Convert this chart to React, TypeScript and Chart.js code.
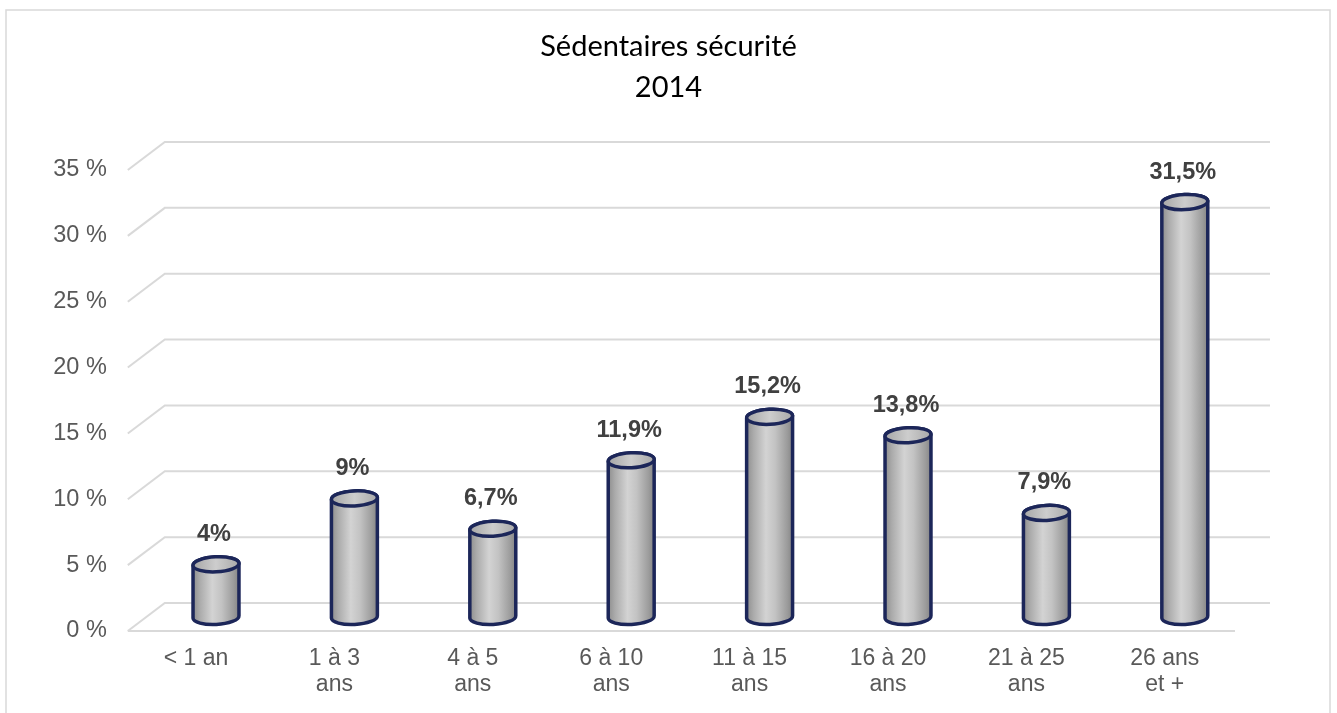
import React, { useEffect, useRef } from 'react';
import { Chart, registerables } from 'chart.js';

Chart.register(...registerables);

const TITLE_LINES = ['Sédentaires sécurité', '2014'];
const CATEGORIES = [
  ['< 1 an'],
  ['1 à 3', 'ans'],
  ['4 à 5', 'ans'],
  ['6 à 10', 'ans'],
  ['11 à 15', 'ans'],
  ['16 à 20', 'ans'],
  ['21 à 25', 'ans'],
  ['26 ans', 'et +'],
];
const VALUES = [4, 9, 6.7, 11.9, 15.2, 13.8, 7.9, 31.5];
const Y_MIN = 0;
const Y_MAX = 35;
const Y_STEP = 5;

const GRID_COLOR = '#d9d9d9';
const OUTLINE = '#1c2659';

const cylinderPlugin = {
  id: 'cylinder3d',
  beforeDraw(chart: any) {
    const ctx = chart.ctx;
    ctx.save();
    ctx.fillStyle = '#ffffff';
    ctx.fillRect(0, 0, chart.width, chart.height);
    ctx.strokeStyle = '#d9d9d9';
    ctx.lineWidth = 1.5;
    ctx.strokeRect(6, 10, 1324, 740);
    ctx.restore();
  },
  beforeDatasetsDraw(chart: any) {
    const ctx = chart.ctx;
    const area = chart.chartArea;
    const ys = chart.scales.y;
    const backL = area.left + 18;
    const backR = area.right + 16;
    const frontL = area.left - 19;
    const frontR = area.right - 19;
    ctx.save();
    ctx.strokeStyle = GRID_COLOR;
    ctx.lineWidth = 2;
    ys.ticks.forEach((t: any) => {
      const y = ys.getPixelForValue(t.value);
      ctx.beginPath();
      ctx.moveTo(frontL, y + 14);
      ctx.lineTo(backL, y - 14);
      ctx.lineTo(backR, y - 14);
      ctx.stroke();
    });
    const y0 = ys.getPixelForValue(0);
    ctx.beginPath();
    ctx.moveTo(frontL, y0 + 14);
    ctx.lineTo(frontR, y0 + 14);
    ctx.stroke();
    ctx.restore();
  },
  afterDatasetsDraw(chart: any) {
    const ctx = chart.ctx;
    const meta = chart.getDatasetMeta(0);
    const data = chart.data.datasets[0].data;
    const rot = -0.05;
    meta.data.forEach((el: any, i: number) => {
      const { x, y, base, width } = el.getProps(['x', 'y', 'base', 'width'], true);
      const rx = width / 2;
      const ry = 7.5;
      ctx.save();
      const g = ctx.createLinearGradient(x - rx, 0, x + rx, 0);
      g.addColorStop(0, '#8e8e8e');
      g.addColorStop(0.15, '#ababab');
      g.addColorStop(0.42, '#d3d3d3');
      g.addColorStop(0.62, '#c3c3c3');
      g.addColorStop(0.88, '#9c9c9c');
      g.addColorStop(1, '#858585');
      ctx.beginPath();
      ctx.ellipse(x, base, rx, ry, rot, Math.PI, 0, true);
      ctx.ellipse(x, y, rx, ry, rot, 0, Math.PI, true);
      ctx.closePath();
      ctx.fillStyle = g;
      ctx.fill();
      ctx.strokeStyle = OUTLINE;
      ctx.lineWidth = 3.5;
      ctx.lineJoin = 'round';
      ctx.stroke();
      const gt = ctx.createLinearGradient(x - rx, 0, x + rx, 0);
      gt.addColorStop(0, '#a6a6a6');
      gt.addColorStop(0.5, '#cdcdcd');
      gt.addColorStop(1, '#a9a9a9');
      ctx.beginPath();
      ctx.ellipse(x, y, rx, ry, rot, 0, Math.PI * 2);
      ctx.fillStyle = gt;
      ctx.fill();
      ctx.stroke();
      const v = data[i];
      ctx.fillStyle = '#404040';
      ctx.font = 'bold 23.5px "Liberation Sans", Arial, sans-serif';
      ctx.textAlign = 'center';
      ctx.textBaseline = 'middle';
      ctx.fillText(String(v).replace('.', ',') + '%', x - 2, y - 30);
      ctx.restore();
    });
  },
};

export default function App() {
  const ref = useRef<HTMLCanvasElement | null>(null);
  useEffect(() => {
    if (!ref.current) return;
    const chart = new Chart(ref.current, {
      type: 'bar',
      data: {
        labels: CATEGORIES,
        datasets: [
          {
            data: VALUES,
            backgroundColor: 'rgba(0,0,0,0)',
            borderWidth: 0,
            barThickness: 46,
          },
        ],
      },
      options: {
        responsive: false,
        animation: false,
        layout: { padding: { left: 0, right: 0, top: 0, bottom: 0 } },
        plugins: {
          legend: { display: false },
          tooltip: { enabled: false },
          title: {
            display: true,
            text: TITLE_LINES,
            color: '#000000',
            font: { family: 'Lato', size: 29, weight: 'normal', lineHeight: 41 / 29 },
            padding: { top: 26.5, bottom: 47.5 },
          },
        },
        scales: {
          x: {
            offset: true,
            grid: { display: false, drawTicks: false },
            border: { display: false },
            ticks: {
              color: '#595959',
              font: { family: '"Liberation Sans", Arial, sans-serif', size: 23, lineHeight: 1.1 },
              padding: 29.5,
              labelOffset: -20,
              maxRotation: 0,
              autoSkip: false,
            },
            afterFit: (s: any) => {
              s.height = 96;
            },
          },
          y: {
            min: Y_MIN,
            max: Y_MAX,
            grid: { display: false, drawTicks: false },
            border: { display: false },
            ticks: {
              stepSize: Y_STEP,
              color: '#595959',
              font: { family: '"Liberation Sans", Arial, sans-serif', size: 23.5 },
              padding: 40,
              labelOffset: 14,
              callback: (v: any) => v + ' %',
            },
            afterFit: (s: any) => {
              s.width = 146.8;
            },
          },
          yRight: {
            position: 'right',
            display: true,
            grid: { display: false, drawTicks: false },
            border: { display: false },
            ticks: { display: false },
            afterFit: (s: any) => {
              s.width = 83;
            },
          },
        },
      },
      plugins: [cylinderPlugin],
    });
    return () => chart.destroy();
  }, []);
  return (
    <div style={{ position: 'fixed', left: 0, top: 0, width: 1337, height: 713 }}>
      <canvas ref={ref} width={1337} height={713} style={{ display: 'block' }} />
    </div>
  );
}
